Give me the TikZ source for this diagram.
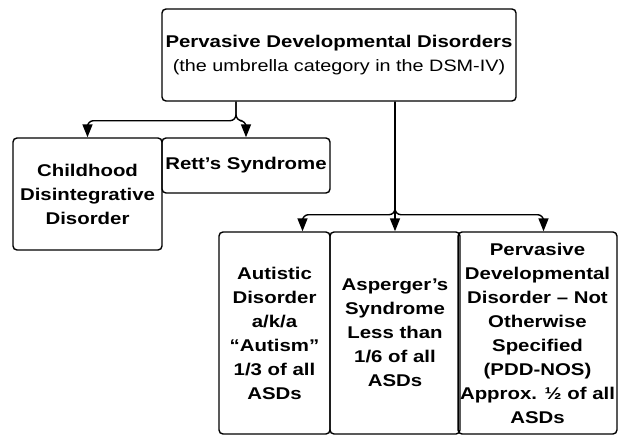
\documentclass[tikz,border=0pt]{standalone}
\usepackage{fontspec}
\setmainfont{Liberation Sans}[FakeStretch=1.2]
\usepackage{tikz}
\usetikzlibrary{arrows.meta}

\tikzset{
  box/.style={draw, line width=1.4pt, rounded corners=4pt, align=center, inner sep=2pt,
    font=\fontsize{17}{24}\selectfont\bfseries},
  link/.style={line width=1.4pt, rounded corners=6pt}
}

\begin{document}
\begin{tikzpicture}[x=1pt,y=-1pt,>={Triangle[length=13pt,width=10pt]}]
        \useasboundingbox (0,0) rectangle (618,436);
        % top of the tree
        \node[box, minimum width=354pt, minimum height=92pt] (pdd) at (339,55)
            {Pervasive Developmental Disorders\\
             {\mdseries\fontsize{16.5}{24}\selectfont (the umbrella category in the DSM-IV)}};
        % left branch
        \node[box, minimum width=149pt, minimum height=112pt] (cdd) at (87.5,194)
            {Childhood\\ Disintegrative\\ Disorder};
        \node[box, minimum width=168pt, minimum height=55pt] (rett) at (246,165.5)
            {Rett’s Syndrome};
        % right branch
        \node[box, minimum width=111pt, minimum height=202pt] (autism) at (274.5,333)
            {Autistic\\ Disorder\\ a/k/a\\ “Autism”\\ 1/3 of all\\ ASDs};
        \node[box, minimum width=130pt, minimum height=202pt] (asperger) at (395,333)
            {Asperger’s\\ Syndrome\\ Less than\\ 1/6 of all\\ ASDs};
        \node[box, minimum width=155pt, minimum height=202pt] (nos) at (537.5,333)
            {Pervasive\\ Developmental\\ Disorder – Not\\ Otherwise\\ Specified\\ (PDD-NOS)\\ Approx. ½ of all\\ ASDs};
        \coordinate (leftsplit) at ([xshift=-103pt]pdd.south);
        \coordinate (rightsplit) at (pdd.south -| asperger.north);
        \draw[link,->] (leftsplit) -- ++(0,19) -| (cdd.north);
        \draw[link,->] (leftsplit) -- ++(0,19) -| (rett.north);
        \draw[link,->] (rightsplit) -- (asperger.north);
        \draw[link,->] (rightsplit) -- ++(0,113) -| ([xshift=28pt]autism.north);
        \draw[link,->] (rightsplit) -- ++(0,113) -| ([xshift=6pt]nos.north);
    \end{tikzpicture}
\end{document}
